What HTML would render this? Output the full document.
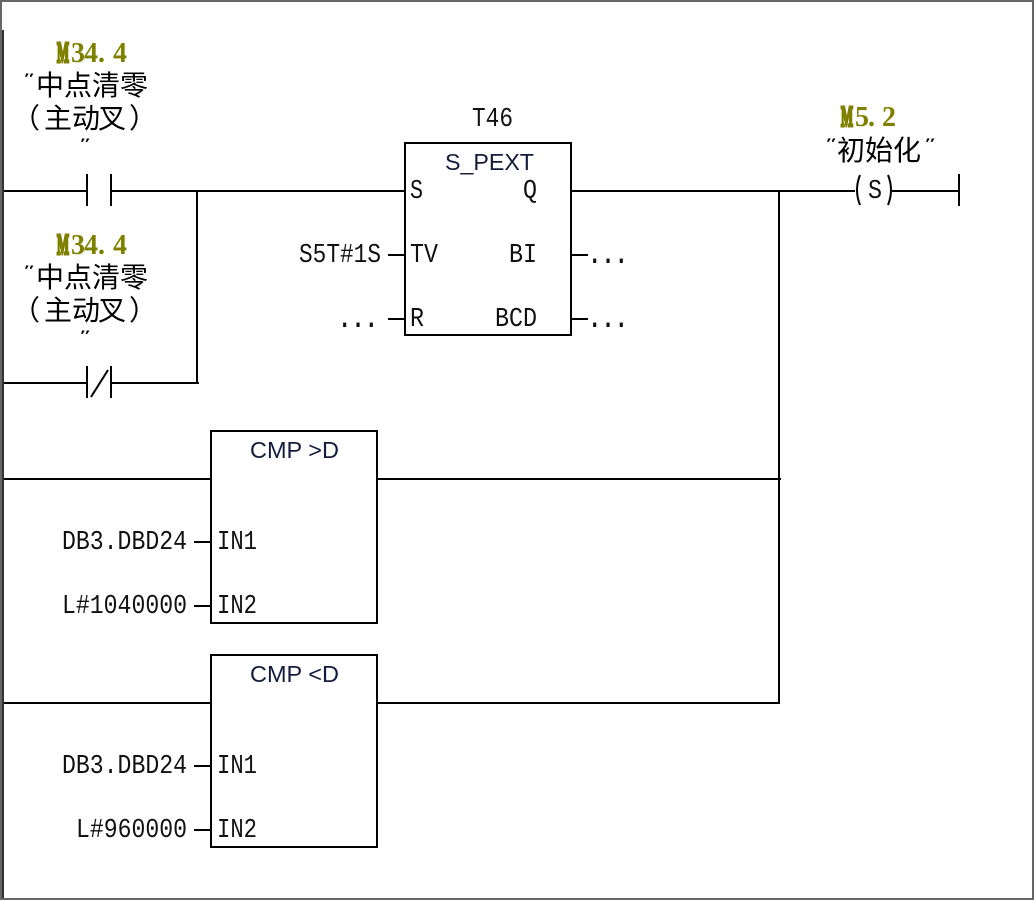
<!DOCTYPE html>
<html>
<head>
<meta charset="utf-8">
<style>
html,body{margin:0;padding:0;background:#fff;width:1034px;height:900px;overflow:hidden}
svg{display:block}
.m{font-family:"Liberation Mono",monospace;font-size:27px;fill:#111}
.d{font-family:"Liberation Mono",monospace;font-size:30px;font-weight:bold;fill:#111}
.o{font-family:"Liberation Serif",serif;font-size:28px;font-weight:bold;fill:#808000}
.b{stroke:#808000;stroke-width:3px}
.c{font-family:"Liberation Sans","WenQuanYi Zen Hei","Noto Sans CJK SC",sans-serif;font-size:28px;fill:#000}
.q{font-family:"Liberation Sans",sans-serif;font-size:14px;fill:#000}
.s{font-family:"Liberation Sans",sans-serif;font-size:23px;fill:#141c3c}
</style>
</head>
<body>
<svg width="1034" height="900" viewBox="0 0 1034 900" xmlns="http://www.w3.org/2000/svg">
<rect x="0" y="0" width="1034" height="900" fill="#fff"/>
<g fill="#666">
<rect x="0" y="0" width="1034" height="2"/>
<rect x="0" y="898" width="1034" height="2"/>
<rect x="0" y="0" width="2" height="900"/>
<rect x="1032" y="0" width="2" height="900"/>
</g>
<rect x="2" y="30" width="2" height="868" fill="#333"/>
<g stroke="#000" stroke-width="2" fill="none">
<path d="M4 191H87M87 174V206M111 174V206M111 191H405"/>
<path d="M197 191V383M4 383H87M87 366V398M111 366V398M111 383H199M91 397L108 370"/>
<rect x="405" y="143" width="166" height="192"/>
<path d="M388 255H405M388 319H405M571 255H588M571 319H588"/>
<path d="M571 191H855M892 191H959M959 174V206M779 191V703"/>
<path d="M860 175Q854 190 860 205M888 175Q894 190 888 205"/>
<rect x="211" y="431" width="166" height="192"/>
<path d="M4 479H211M377 479H781M194 542H211M194 606H211"/>
<rect x="211" y="655" width="166" height="192"/>
<path d="M4 703H211M377 703H780M194 766H211M194 830H211"/>
</g>

<text class="o" x="57 71 84 98 113" y="62"><tspan class="b" textLength="12" lengthAdjust="spacingAndGlyphs">M</tspan>34.4</text>
<text class="q" x="24" y="83" textLength="10" lengthAdjust="spacingAndGlyphs">″</text>
<text class="c" x="36" y="95">中点清零</text>
<text class="c" x="12 44 72 98 129" y="128">（主动叉）</text>
<text class="q" x="80" y="148" textLength="10" lengthAdjust="spacingAndGlyphs">″</text>

<text class="o" x="57 71 84 98 113" y="254"><tspan class="b" textLength="12" lengthAdjust="spacingAndGlyphs">M</tspan>34.4</text>
<text class="q" x="24" y="275" textLength="10" lengthAdjust="spacingAndGlyphs">″</text>
<text class="c" x="36" y="287">中点清零</text>
<text class="c" x="12 44 72 98 129" y="320">（主动叉）</text>
<text class="q" x="80" y="340" textLength="10" lengthAdjust="spacingAndGlyphs">″</text>

<text class="m" x="472" y="126" textLength="41" lengthAdjust="spacingAndGlyphs">T46</text>
<text class="s" x="445" y="170" textLength="89" lengthAdjust="spacingAndGlyphs">S_PEXT</text>
<text class="m" x="410" y="198" textLength="13" lengthAdjust="spacingAndGlyphs">S</text>
<text class="m" x="523" y="198" textLength="14" lengthAdjust="spacingAndGlyphs">Q</text>
<text class="m" x="299" y="262" textLength="82" lengthAdjust="spacingAndGlyphs">S5T#1S</text>
<text class="m" x="410" y="262" textLength="28" lengthAdjust="spacingAndGlyphs">TV</text>
<text class="m" x="509" y="262" textLength="28" lengthAdjust="spacingAndGlyphs">BI</text>
<text class="d" x="338" y="327" textLength="40" lengthAdjust="spacingAndGlyphs">...</text>
<text class="m" x="410" y="326" textLength="14" lengthAdjust="spacingAndGlyphs">R</text>
<text class="m" x="495" y="326" textLength="42" lengthAdjust="spacingAndGlyphs">BCD</text>
<text class="d" x="588" y="263" textLength="40" lengthAdjust="spacingAndGlyphs">...</text>
<text class="d" x="588" y="327" textLength="40" lengthAdjust="spacingAndGlyphs">...</text>

<text class="o" x="841 855 868 882 883" y="126"><tspan class="b" textLength="12" lengthAdjust="spacingAndGlyphs">M</tspan>5.2</text>
<text class="q" x="826" y="148" textLength="10" lengthAdjust="spacingAndGlyphs">″</text>
<text class="c" x="837" y="160">初始化</text>
<text class="q" x="925" y="148" textLength="10" lengthAdjust="spacingAndGlyphs">″</text>
<text class="m" x="868" y="198" textLength="14" lengthAdjust="spacingAndGlyphs">S</text>

<text class="s" x="250" y="458" textLength="89" lengthAdjust="spacingAndGlyphs">CMP &gt;D</text>
<text class="m" x="62" y="549" textLength="125" lengthAdjust="spacingAndGlyphs">DB3.DBD24</text>
<text class="m" x="217" y="549" textLength="40" lengthAdjust="spacingAndGlyphs">IN1</text>
<text class="m" x="62" y="613" textLength="125" lengthAdjust="spacingAndGlyphs">L#1040000</text>
<text class="m" x="217" y="613" textLength="40" lengthAdjust="spacingAndGlyphs">IN2</text>

<text class="s" x="250" y="682" textLength="89" lengthAdjust="spacingAndGlyphs">CMP &lt;D</text>
<text class="m" x="62" y="773" textLength="125" lengthAdjust="spacingAndGlyphs">DB3.DBD24</text>
<text class="m" x="217" y="773" textLength="40" lengthAdjust="spacingAndGlyphs">IN1</text>
<text class="m" x="76" y="837" textLength="111" lengthAdjust="spacingAndGlyphs">L#960000</text>
<text class="m" x="217" y="837" textLength="40" lengthAdjust="spacingAndGlyphs">IN2</text>
</svg>
</body>
</html>
